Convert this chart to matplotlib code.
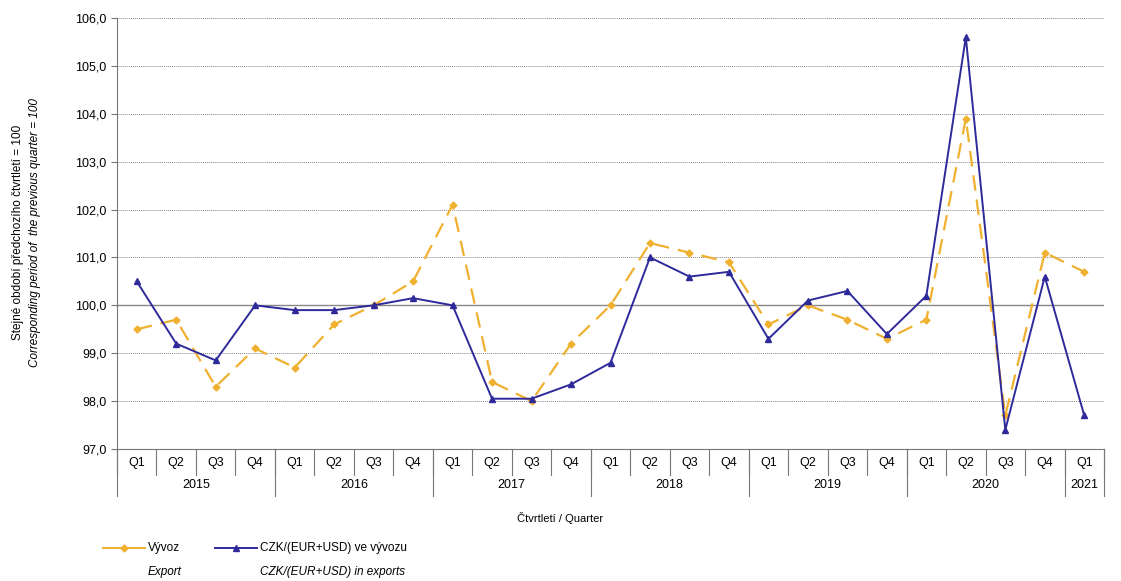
import matplotlib
matplotlib.use("Agg")
import matplotlib.pyplot as plt
from matplotlib.lines import Line2D

years = ["2015", "2016", "2017", "2018", "2019", "2020", "2021"]
quarters_per_year = [4, 4, 4, 4, 4, 4, 1]
quarter_labels = ["Q1", "Q2", "Q3", "Q4"] * 6 + ["Q1"]
export = [99.5, 99.7, 98.3, 99.1, 98.7, 99.6, 100.0, 100.5, 102.1, 98.4, 98.0, 99.2,
          100.0, 101.3, 101.1, 100.9, 99.6, 100.0, 99.7, 99.3, 99.7, 103.9, 97.7, 101.1, 100.7]
czk = [100.5, 99.2, 98.85, 100.0, 99.9, 99.9, 100.0, 100.15, 100.0, 98.05, 98.05, 98.35,
       98.8, 101.0, 100.6, 100.7, 99.3, 100.1, 100.3, 99.4, 100.2, 105.6, 97.4, 100.6, 97.7]

plt.rcParams['font.family'] = ['Liberation Sans', 'DejaVu Sans']
fig = plt.figure(figsize=(11.21, 5.81), dpi=100)
ax = fig.add_axes([117/1121, 1-449/581, (1104-117)/1121, (449-18)/581])
x = list(range(len(export)))
orange = "#F0B030"; blue = "#2E2A9A"
ax.plot(x, export, color=orange, lw=1.6, ls=(0, (7, 4)), marker='D', ms=3.5)
ax.plot(x, czk, color=blue, lw=1.4, marker='^', ms=5)
ax.set_xlim(-0.5, len(x)-0.5)
ax.set_ylim(97, 106)
ax.set_yticks([97 + i for i in range(10)])
ax.set_yticklabels([f"{97+i},0" for i in range(10)], fontsize=9)
for i in range(1, 10):
    ax.axhline(97+i, color='#888888', lw=0.7, ls=(0, (1, 1)), zorder=0)
ax.axhline(100, color='#888888', lw=1.0, zorder=0)
ax.set_xticks([])
for s in ['top', 'right']:
    ax.spines[s].set_visible(False)
ax.spines['left'].set_color('#777777'); ax.spines['bottom'].set_color('#777777')
ax.tick_params(axis='y', length=4, color='#777777')
tr = ax.get_xaxis_transform()
for i, q in enumerate(quarter_labels):
    ax.text(i, -0.032, q, transform=tr, ha='center', va='center', fontsize=9)
for i in range(len(x)+1):
    ax.plot([i-0.5, i-0.5], [0, -0.06], transform=tr, color='#777777', lw=0.8, clip_on=False)
start = 0
bounds = [0]
for y, n in zip(years, quarters_per_year):
    ax.text(start + n/2 - 0.5, -0.083, y, transform=tr, ha='center', va='center', fontsize=9)
    start += n
    bounds.append(start)
for b in bounds:
    ax.plot([b-0.5, b-0.5], [0, -0.11], transform=tr, color='#777777', lw=0.8, clip_on=False)
fig.text(0.5, 1-518/581, "Čtvrtletí / Quarter", ha='center', va='center', fontsize=8)
fig.text(0.016, 0.6, "Stejné období předchozího čtvrtletí = 100", rotation=90, ha='center', va='center', fontsize=8.5)
fig.text(0.031, 0.6, "Corresponding period of  the previous quarter = 100", rotation=90, ha='center', va='center', fontsize=8.5, style='italic')
ly = 1-548/581
fig.add_artist(Line2D([103/1121, 124/1121, 145/1121], [ly, ly, ly], color=orange, lw=1.4, marker='D', ms=3.5, markevery=[1], transform=fig.transFigure))
fig.add_artist(Line2D([215/1121, 236/1121, 257/1121], [ly, ly, ly], color=blue, lw=1.4, marker='^', ms=5, markevery=[1], transform=fig.transFigure))
fig.text(148/1121, ly, "Vývoz", va='center', fontsize=8.5)
fig.text(260/1121, ly, "CZK/(EUR+USD) ve vývozu", va='center', fontsize=8.5)
fig.text(148/1121, 1-572/581, "Export", va='center', fontsize=8.5, style='italic')
fig.text(260/1121, 1-572/581, "CZK/(EUR+USD) in exports", va='center', fontsize=8.5, style='italic')
fig.savefig("out.png", dpi=100)
